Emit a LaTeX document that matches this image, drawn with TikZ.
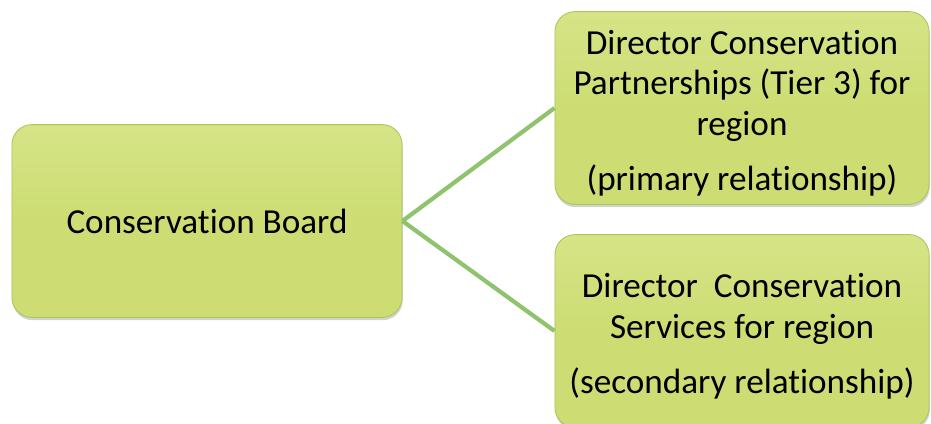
\documentclass[tikz,border=0pt]{standalone}
\usepackage{fontspec}
\setmainfont{Carlito}
\usepackage{xcolor}
\usetikzlibrary{positioning,shadows}

\definecolor{boxgreen}{RGB}{205,221,115}
\definecolor{boxtop}{RGB}{214,228,135}
\definecolor{boxedge}{RGB}{170,198,90}
\definecolor{linkgreen}{RGB}{143,195,110}

% keep "t" and "i" apart (no ti ligature)
\newcommand{\nolig}{\kern0pt}
\newcommand{\toppad}{\rule{0pt}{25pt}}

\tikzset{
  orgbox/.style={rounded corners=0.5cm, draw=boxedge, line width=0.6pt,
    top color=boxtop, bottom color=boxgreen, middle color=boxgreen,
    drop shadow={shadow xshift=0.5pt, shadow yshift=-2pt, opacity=0.35},
    align=center, inner sep=0pt,
    font=\fontsize{25}{28.5}\selectfont},
  orglink/.style={linkgreen, line width=3pt}
}

\begin{document}
\begin{tikzpicture}[x=0.025cm, y=-0.025cm]
        % Canvas
        \useasboundingbox (0,0) rectangle (931,423);

        % Boxes
        \node[orgbox, minimum width=9.75cm, minimum height=4.82cm] (board) at (207,221)
            {Conservat\nolig ion Board};
        \node[orgbox, minimum width=9.35cm, minimum height=4.82cm] (primary) at (742,108)
            {\toppad Director Conservat\nolig ion\\Partnerships (Tier 3) for\\region\\[11pt](primary relat\nolig ionship)};
        \node[orgbox, minimum width=9.35cm, minimum height=4.82cm] (secondary) at (742,331)
            {\toppad Director\ \ Conservat\nolig ion\\Services for region\\[11pt](secondary relat\nolig ionship)};

        % Links
        \begin{scope}[on background layer/.try]
        \draw[orglink] (board.east) -- (primary.west);
        \draw[orglink] (board.east) -- (secondary.west);
        \end{scope}
\end{tikzpicture}
\end{document}
